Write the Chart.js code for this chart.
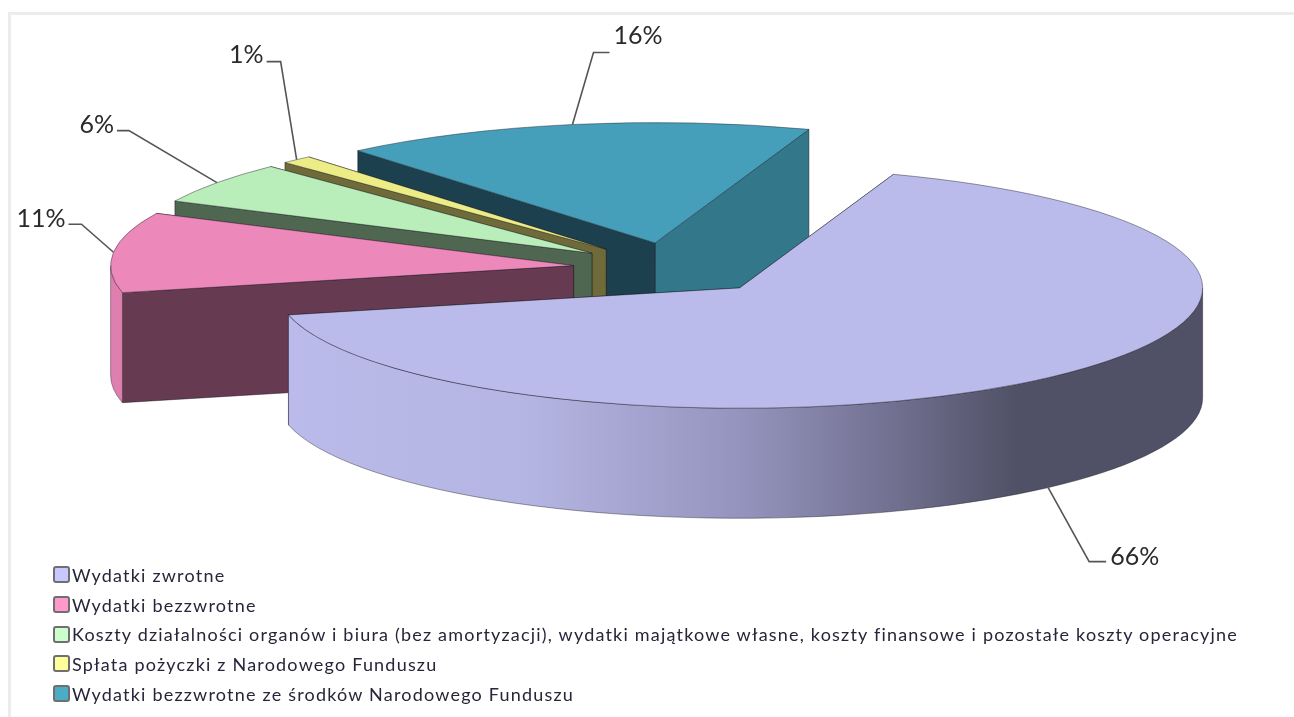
<!DOCTYPE html>
<html lang="pl">
<head>
<meta charset="utf-8">
<title>Wydatki</title>
<script src="https://cdn.jsdelivr.net/npm/chart.js@4"></script>
<style>
    html, body { margin: 0; padding: 0; background: #fff; overflow: hidden; }
    #wrap { position: relative; width: 1294px; height: 717px; }
    #frame { position: absolute; left: 8px; top: 12px; right: 0; bottom: 0; border-left: 3px solid #ececec; border-top: 3px solid #ececec; }
    canvas { position: absolute; left: 0; top: 0; }
    #legend { position: absolute; left: 53px; top: 560px; font: 18px Lato, sans-serif; color: #26263a; letter-spacing: 1.2px; }
    .row { height: 29.7px; display: flex; align-items: center; white-space: nowrap; }
    .box { width: 13px; height: 13px; border: 2px solid #6f6f6f; border-radius: 3px; margin-right: 2px; flex: none; }
</style>
</head>
<body>
<div id="wrap">
    <div id="frame"></div>
    <canvas id="chart" width="1294" height="717"></canvas>
    <div id="legend"></div>
</div>
<script>
const categories = [
    "Wydatki zwrotne",
    "Wydatki bezzwrotne",
    "Koszty działalności organów i biura (bez amortyzacji), wydatki majątkowe własne, koszty finansowe i pozostałe koszty operacyjne",
    "Spłata pożyczki z Narodowego Funduszu",
    "Wydatki bezzwrotne ze środków Narodowego Funduszu"
];
const values = [66.0, 10.75, 5.65, 1.1, 16.49];

const topColors = ["#BBBBEB", "#EC88BA", "#B9EDB9", "#EDED88", "#459EBA"];
const legendColors = ["#C8C8FF", "#FF99CC", "#CCFFCC", "#FFFF99", "#4BACC6"];
const startFaceColors = ["#4f4f66", "#663A50", "#4F6650", "#6E6A3A", "#1C404D"];
const endFaceColors = ["#4f4f66", "#663A50", "#4F6650", "#6E6A3A", "#33788A"];
const sideColors = ["#BBBBEB", "#DE7FAF", "#4F6650", "#6E6A3A", "#33788A"];

// elbow of each leader line relative to the slice edge, then the short horizontal piece
const elbows = [[41, 74, 17], [-32, -28, -13], [-88, -52, -12], [-16, -98, -14], [21, -72, 16]];
const labelLift = [5, 5, 6, 7, 17];

const squash = 0.26;
const depth = 110;
const explode = 100;

function baseY(chart) {
    return (chart.chartArea.top + chart.chartArea.bottom) / 2;
}

function geom(chart, el) {
    const y0 = baseY(chart);
    return {
        a0: el.startAngle,
        a1: el.endAngle,
        mid: (el.startAngle + el.endAngle) / 2,
        r: el.outerRadius,
        cx: el.x,
        cy: y0 + (el.y - y0) * squash
    };
}

function rim(g, a) {
    return [g.cx + Math.cos(a) * g.r, g.cy + Math.sin(a) * g.r * squash];
}

function cutFace(ctx, g, a, color) {
    const p = rim(g, a);
    ctx.beginPath();
    ctx.moveTo(g.cx, g.cy);
    ctx.lineTo(p[0], p[1]);
    ctx.lineTo(p[0], p[1] + depth);
    ctx.lineTo(g.cx, g.cy + depth);
    ctx.closePath();
    ctx.fillStyle = color;
    ctx.fill();
    ctx.strokeStyle = "rgba(20,20,30,0.55)";
    ctx.lineWidth = 0.8;
    ctx.stroke();
}

function outerSide(ctx, g, color) {
    const s = Math.max(g.a0, 0);
    const e = Math.min(g.a1, Math.PI);
    if (e <= s) return;
    ctx.beginPath();
    ctx.ellipse(g.cx, g.cy, g.r, g.r * squash, 0, s, e);
    ctx.ellipse(g.cx, g.cy + depth, g.r, g.r * squash, 0, e, s, true);
    ctx.closePath();
    ctx.fillStyle = color;
    ctx.fill();
    ctx.strokeStyle = "rgba(20,20,30,0.5)";
    ctx.lineWidth = 0.8;
    ctx.stroke();
}

const pie3d = {
    id: "pie3d",
    afterDatasetsUpdate(chart) {
        // pull the slices apart, the offset option would also change their radius
        chart.getDatasetMeta(0).data.forEach(el => {
            const mid = (el.startAngle + el.endAngle) / 2;
            el.x += Math.cos(mid) * explode;
            el.y += Math.sin(mid) * explode;
        });
    },
    beforeDatasetsDraw(chart) {
        const ctx = chart.ctx;
        const arcs = chart.getDatasetMeta(0).data;
        // back slices first, the big one last
        [4, 3, 2, 1, 0].forEach(i => {
            const g = geom(chart, arcs[i]);
            cutFace(ctx, g, g.a1, endFaceColors[i]);
            cutFace(ctx, g, g.a0, startFaceColors[i]);
            let side = sideColors[i];
            if (i === 0) {
                const left = g.cx - g.r;
                const grad = ctx.createLinearGradient(left, 0, g.cx + g.r, 0);
                grad.addColorStop(0, "#BBBBEB");
                grad.addColorStop(0.27, "#B5B5E3");
                grad.addColorStop(0.5, "#9594BE");
                grad.addColorStop(0.68, "#6E6D8C");
                grad.addColorStop(0.8, "#505066");
                grad.addColorStop(1, "#505066");
                side = grad;
            }
            outerSide(ctx, g, side);
        });
        const y = baseY(chart);
        ctx.save();
        ctx.translate(0, y);
        ctx.scale(1, squash);
        ctx.translate(0, -y);
    },
    afterDatasetsDraw(chart) {
        const ctx = chart.ctx;
        ctx.restore();
        const arcs = chart.getDatasetMeta(0).data;
        arcs.forEach(el => {
            const g = geom(chart, el);
            // thin outline of the top face
            ctx.beginPath();
            ctx.moveTo(g.cx, g.cy);
            ctx.ellipse(g.cx, g.cy, g.r, g.r * squash, 0, g.a0, g.a1);
            ctx.closePath();
            ctx.strokeStyle = "rgba(30,30,40,0.55)";
            ctx.lineWidth = 0.8;
            ctx.stroke();
        });
        arcs.forEach((el, i) => {
            const g = geom(chart, el);
            const p = rim(g, g.mid);
            if (Math.sin(g.mid) > 0) p[1] += depth;
            const b = elbows[i];
            const ex = p[0] + b[0];
            const ey = p[1] + b[1];
            ctx.beginPath();
            ctx.moveTo(p[0], p[1]);
            ctx.lineTo(ex, ey);
            ctx.lineTo(ex + b[2], ey);
            ctx.strokeStyle = "#555";
            ctx.lineWidth = 1.6;
            ctx.stroke();
            ctx.font = "25px Lato, sans-serif";
            ctx.fillStyle = "#2a2a2a";
            ctx.textBaseline = "middle";
            ctx.textAlign = b[2] > 0 ? "left" : "right";
            const gap = b[2] > 0 ? 4 : -3;
            ctx.fillText(Math.round(values[i]) + "%", ex + b[2] + gap, ey - labelLift[i]);
        });
    }
};

new Chart(document.getElementById("chart").getContext("2d"), {
    type: "pie",
    data: {
        labels: categories,
        datasets: [{
            data: values,
            backgroundColor: topColors,
            borderWidth: 0,
            clip: false
        }]
    },
    options: {
        responsive: false,
        animation: false,
        events: [],
        rotation: 19.4,
        radius: 463,
        layout: { padding: { left: 52, bottom: 180 } },
        plugins: {
            legend: { display: false },
            tooltip: { enabled: false }
        }
    },
    plugins: [pie3d]
});

const legend = document.getElementById("legend");
categories.forEach((name, i) => {
    const row = document.createElement("div");
    row.className = "row";
    const box = document.createElement("span");
    box.className = "box";
    box.style.background = legendColors[i];
    row.appendChild(box);
    row.appendChild(document.createTextNode(name));
    legend.appendChild(row);
});
</script>
</body>
</html>
